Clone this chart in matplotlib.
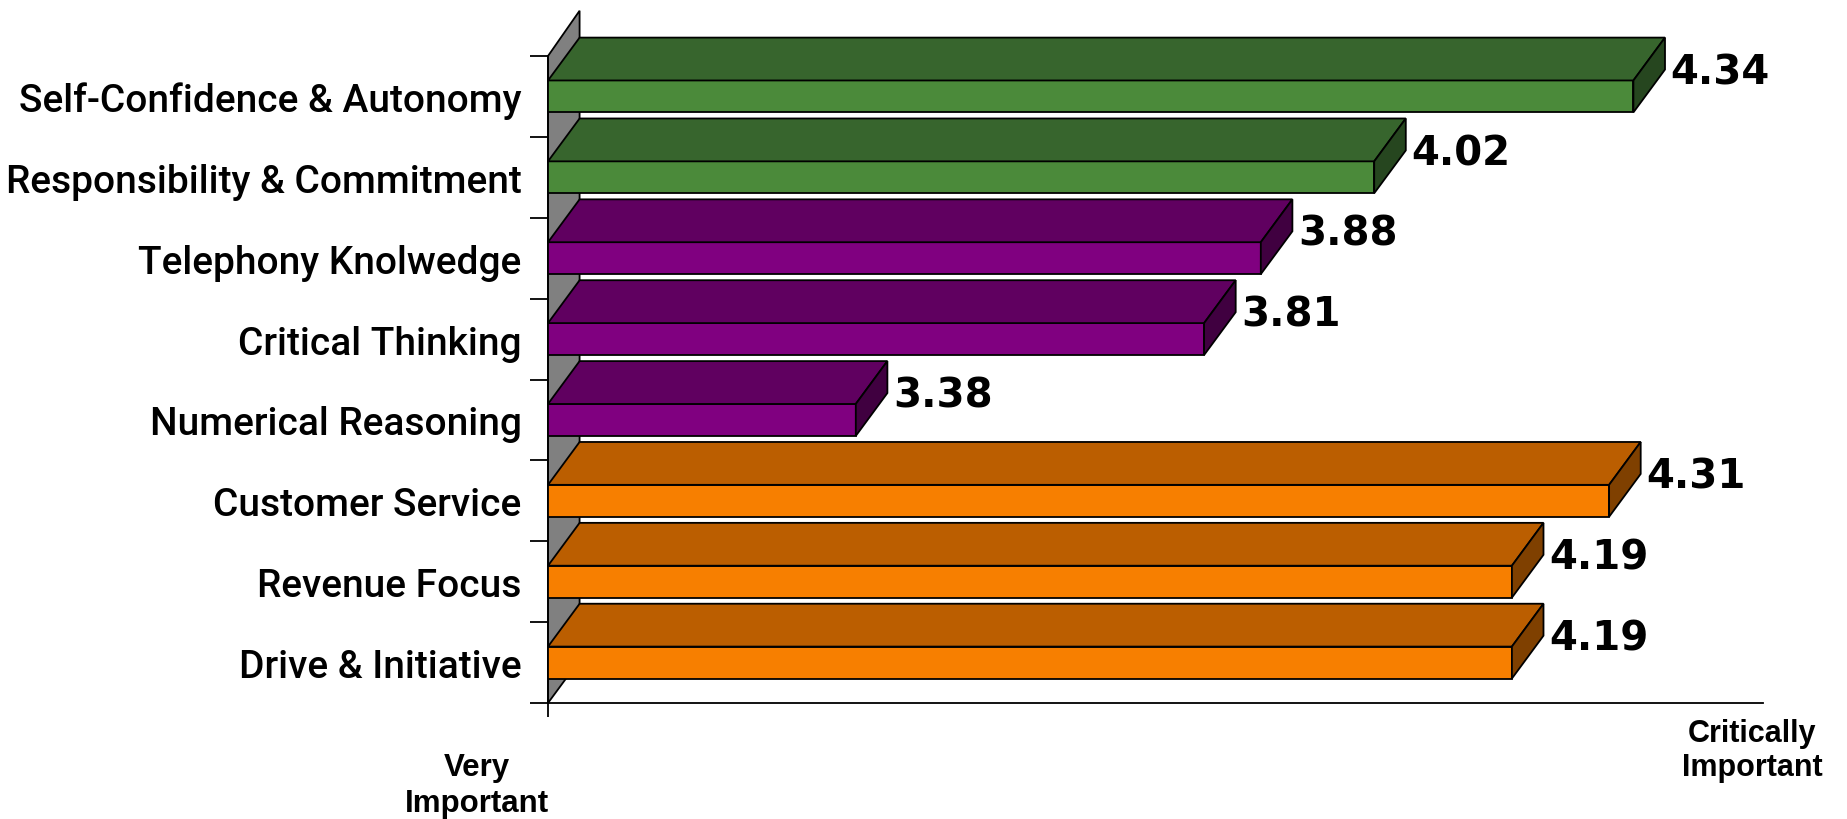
import matplotlib.pyplot as plt
from matplotlib.patches import Polygon

# ratings, listed top to bottom
skills = ["Self-Confidence & Autonomy", "Responsibility & Commitment",
          "Telephony Knolwedge", "Critical Thinking", "Numerical Reasoning",
          "Customer Service", "Revenue Focus", "Drive & Initiative"]
scores = [4.34, 4.02, 3.88, 3.81, 3.38, 4.31, 4.19, 4.19]
groups = ["green", "green", "purple", "purple", "purple",
          "orange", "orange", "orange"]

# front / top / side shades for the fake 3D bars
shades = {
    "green": ("#4b8a3a", "#37652d", "#26461f"),
    "purple": ("#800080", "#600060", "#400040"),
    "orange": ("#f77f00", "#bb5e00", "#7f4000"),
}

xmin, xmax = 3.0, 4.5
dx, dy = 0.039, 0.53      # depth offset in data units
bar_h = 0.395

fig = plt.figure(figsize=(18.47, 8.20), dpi=100)
ax = fig.add_axes([548 / 1847, 116 / 820, 1215 / 1847, 647 / 820])
ax.set_xlim(xmin, xmax)
ax.set_ylim(0, 8)

n = len(skills)
ypos = [n - 1 - i + 0.5 for i in range(n)]

# side wall
wall = Polygon([(xmin, 0), (xmin, 8), (xmin + dx, 8 + dy + 0.03), (xmin + dx, dy)],
               closed=True, facecolor="#808080", edgecolor="black", lw=1.3,
               clip_on=False, zorder=1)
ax.add_patch(wall)

for y, v, g in zip(ypos, scores, groups):
    front, top, side = shades[g]
    y0, y1 = y - bar_h / 2, y + bar_h / 2
    ax.barh(y, v - xmin, left=xmin, height=bar_h, color=front,
            edgecolor="black", lw=1.3, zorder=3)
    ax.add_patch(Polygon([(xmin, y1), (v, y1), (v + dx, y1 + dy), (xmin + dx, y1 + dy)],
                         closed=True, facecolor=top, edgecolor="black", lw=1.3,
                         clip_on=False, zorder=3))
    ax.add_patch(Polygon([(v, y0), (v, y1), (v + dx, y1 + dy), (v + dx, y0 + dy)],
                         closed=True, facecolor=side, edgecolor="black", lw=1.3,
                         clip_on=False, zorder=3))
    ax.text(v + dx + 0.007, y + 0.3, f"{v:.2f}", fontsize=29, fontweight="bold",
            family="DejaVu Sans", ha="left", va="center", zorder=4)

for s in ("top", "right"):
    ax.spines[s].set_visible(False)
ax.spines["left"].set_linewidth(1.3)
ax.spines["bottom"].set_linewidth(1.3)

ax.set_yticks(ypos)
ax.set_yticklabels(skills, fontsize=28, family="Roboto", fontweight="medium")
ax.set_yticks(range(n + 1), minor=True)
ax.tick_params(axis="y", which="major", length=0, pad=19)
ax.tick_params(axis="y", which="minor", length=13, width=1.3)
ax.set_xticks([xmin])
ax.set_xticklabels([])
ax.tick_params(axis="x", length=10, width=1.3)

fig.text(477 / 1847, 1 - 786 / 820, "Very\nImportant", ha="center", va="center",
         fontsize=22.5, fontweight="bold", family="Liberation Sans", linespacing=1.3)
fig.text(1752 / 1847, 1 - 751 / 820, "Critically\nImportant", ha="center", va="center",
         fontsize=22, fontweight="bold", family="Liberation Sans", linespacing=1.2)

fig.savefig("out.png", dpi=100)
